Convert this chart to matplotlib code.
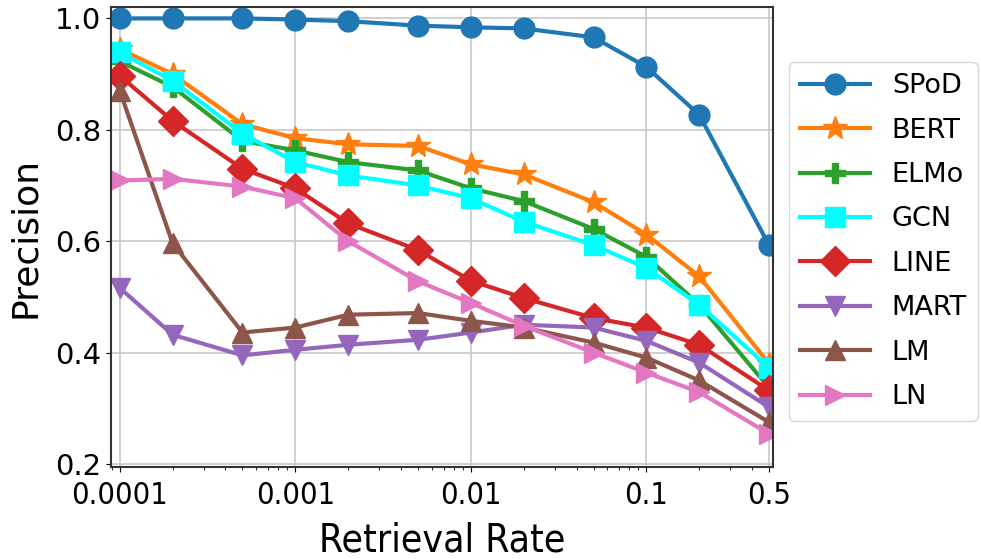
import matplotlib
matplotlib.use("Agg")
import matplotlib.pyplot as plt
from matplotlib import font_manager

# Data
rates = [0.0001, 0.0002, 0.0005, 0.001, 0.002, 0.005, 0.01, 0.02, 0.05, 0.1, 0.2, 0.5]

spod = [1.0, 1.0, 1.0, 0.998, 0.995, 0.987, 0.984, 0.982, 0.966, 0.913, 0.827, 0.593]
bert = [0.945, 0.9, 0.81, 0.785, 0.774, 0.771, 0.738, 0.72, 0.67, 0.612, 0.537, 0.38]
elmo = [0.923, 0.877, 0.78, 0.763, 0.742, 0.727, 0.695, 0.672, 0.622, 0.572, 0.486, 0.337]
gcn = [0.939, 0.888, 0.793, 0.742, 0.718, 0.70, 0.677, 0.635, 0.593, 0.552, 0.486, 0.373]
line = [0.897, 0.816, 0.73, 0.695, 0.632, 0.584, 0.529, 0.498, 0.462, 0.445, 0.414, 0.332]
mart = [0.516, 0.432, 0.395, 0.405, 0.414, 0.423, 0.436, 0.45, 0.445, 0.421, 0.382, 0.302]
lm = [0.87, 0.596, 0.436, 0.445, 0.468, 0.471, 0.457, 0.445, 0.418, 0.391, 0.35, 0.275]
ln = [0.709, 0.712, 0.698, 0.677, 0.60, 0.528, 0.489, 0.448, 0.40, 0.364, 0.329, 0.254]

series = [
    ("SPoD", spod, "o", "tab:blue"),
    ("BERT", bert, "*", "tab:orange"),
    ("ELMo", elmo, "P", "tab:green"),
    ("GCN", gcn, "s", "cyan"),
    ("LINE", line, "D", "tab:red"),
    ("MART", mart, "v", "tab:purple"),
    ("LM", lm, "^", "tab:brown"),
    ("LN", ln, ">", "tab:pink"),
]

xticks = [0.0001, 0.001, 0.01, 0.1, 0.5]
xticklabels = ["0.0001", "0.001", "0.01", "0.1", "0.5"]
yticks = [0.2, 0.4, 0.6, 0.8, 1.0]
yticklabels = ["0.2", "0.4", "0.6", "0.8", "1.0"]

# narrower glyphs if a condensed DejaVu is around
cond_path = font_manager.findfont(
    font_manager.FontProperties(family="DejaVu Sans", stretch="condensed"))
has_cond = "Condensed" in cond_path

fig = plt.figure(figsize=(9.81, 5.59), dpi=100)
ax = fig.add_axes([0.113, 0.165, 0.675, 0.822])

for name, vals, mk, col in series:
    ms = 18 if mk == "*" else 15
    ax.plot(rates, vals, marker=mk, color=col, label=name, lw=3, ms=ms)

ax.set_xscale("log")
ax.set_xlim(8.89e-5, 0.527)
ax.set_ylim(0.195, 1.02)
ax.set_xticks(xticks)
ax.set_xticklabels(xticklabels)
ax.set_yticks(yticks)
ax.set_yticklabels(yticklabels)
ax.grid(True, which="major", color="#c8c8c8", lw=1.2)

if has_cond:
    xt_size, xl_size = 22, 28
else:
    xt_size, xl_size = 20, 25
for t in ax.get_xticklabels():
    t.set_fontstretch("condensed")
    t.set_fontsize(xt_size)
ax.tick_params(axis="y", labelsize=21)
ax.tick_params(axis="x", pad=7)
ax.set_xlabel("Retrieval Rate", fontsize=xl_size, fontstretch="condensed", labelpad=8)
ax.set_ylabel("Precision", fontsize=26, labelpad=9)

for s in ax.spines.values():
    s.set_color("#333333")
    s.set_linewidth(1.5)

ax.legend(loc="center left", bbox_to_anchor=(1.024, 0.49), fontsize=19.5,
          borderaxespad=0, labelspacing=0.68, handlelength=2.6)

fig.savefig("out.png", dpi=100)
